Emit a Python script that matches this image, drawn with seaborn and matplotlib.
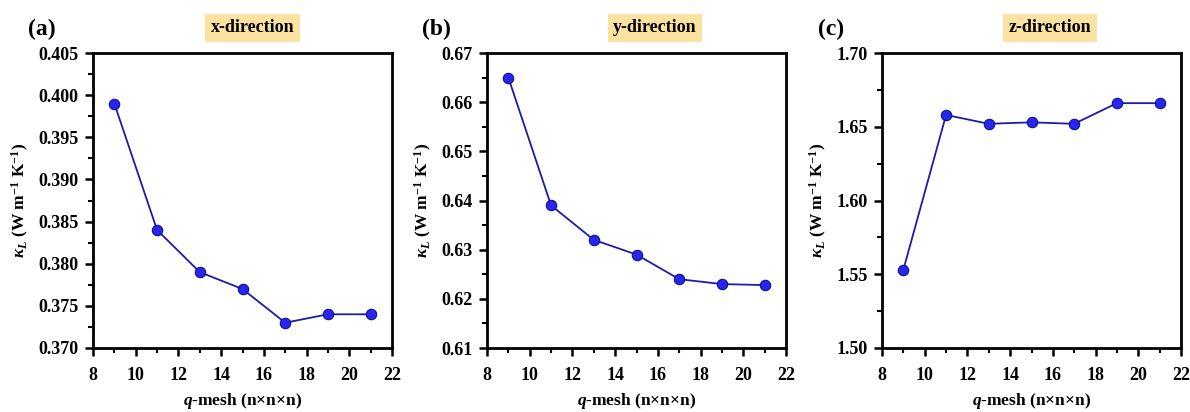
import matplotlib
matplotlib.use("Agg")
import matplotlib.pyplot as plt
import seaborn as sns
import numpy as np
import pandas as pd
from matplotlib.ticker import MultipleLocator

# ---- data ----
qmesh = [9, 11, 13, 15, 17, 19, 21]
kappa_x = [0.399, 0.384, 0.379, 0.377, 0.373, 0.374, 0.374]
kappa_y = [0.665, 0.639, 0.632, 0.629, 0.624, 0.623, 0.6228]
kappa_z = [1.553, 1.658, 1.652, 1.653, 1.652, 1.666, 1.666]
panel_labels = ["(a)", "(b)", "(c)"]
titles = ["x-direction", "y-direction", "z-direction"]
ylims = [(0.370, 0.405), (0.61, 0.67), (1.50, 1.70)]
ysteps = [0.005, 0.01, 0.05]
yfmts = ["{:.3f}", "{:.2f}", "{:.2f}"]

sns.set_theme(style="ticks")
plt.rcParams["font.family"] = ["Liberation Serif", "DejaVu Serif"]
plt.rcParams["font.weight"] = "bold"
plt.rcParams["text.color"] = "black"
plt.rcParams["axes.labelcolor"] = "black"
plt.rcParams["mathtext.fontset"] = "custom"
plt.rcParams["mathtext.rm"] = "Liberation Serif:bold"
plt.rcParams["mathtext.it"] = "Liberation Serif:italic:bold"
plt.rcParams["mathtext.bf"] = "Liberation Serif:bold"

fig = plt.figure(figsize=(11.9, 4.12), dpi=100)
lefts = [93 / 1190, 487 / 1190, 882 / 1190]
width = 299 / 1190
bottom = (412 - 348) / 412
height = (348 - 53) / 412
title_x = [0.533, 0.562, 0.562]

series = [kappa_x, kappa_y, kappa_z]
for i in range(3):
    ax = fig.add_axes([lefts[i], bottom, width, height])
    df = pd.DataFrame({"q": qmesh, "k": series[i]})
    sns.lineplot(data=df, x="q", y="k", ax=ax, color="#1c1ca8", linewidth=1.3,
                 marker="o", markersize=7.5, markerfacecolor="#2626ee",
                 markeredgecolor="#10108a", markeredgewidth=0.8)
    ax.set_xlim(8, 22)
    ax.set_ylim(*ylims[i])
    ax.xaxis.set_major_locator(MultipleLocator(2))
    ax.xaxis.set_minor_locator(MultipleLocator(1))
    yt = np.arange(ylims[i][0], ylims[i][1] + ysteps[i] / 2, ysteps[i])
    ax.set_yticks(yt)
    ax.set_yticklabels([yfmts[i].format(v) for v in yt])
    ax.yaxis.set_minor_locator(MultipleLocator(ysteps[i] / 2))
    for s in ax.spines.values():
        s.set_linewidth(2.0)
        s.set_color("black")
    ax.tick_params(which="major", direction="out", length=5.5, width=1.8,
                   labelsize=13, colors="black")
    ax.tick_params(axis="x", which="major", pad=8)
    ax.tick_params(axis="y", which="major", pad=5)
    ax.tick_params(which="minor", direction="out", length=3.5, width=1.5, colors="black")
    for lab in ax.get_xticklabels() + ax.get_yticklabels():
        lab.set_fontweight("bold")
    ax.set_xlabel(r"$\mathit{q}$-mesh (n×n×n)", fontsize=12.5, fontweight="bold", labelpad=5)
    ax.set_ylabel(r"$\kappa_{\mathit{L}}$ (W m$^{-1}$ K$^{-1}$)", fontsize=12.5, fontweight="bold", labelpad=5)
    ax.text(title_x[i], 1.085, titles[i], transform=ax.transAxes, ha="center", va="center",
            fontsize=13, fontweight="bold",
            bbox=dict(boxstyle="square,pad=0.3", facecolor="#fbe2a0", edgecolor="none"))
    ax.text(-0.17, 1.08, panel_labels[i], transform=ax.transAxes, ha="center", va="center",
            fontsize=17, fontweight="bold")

fig.savefig("out.png", dpi=100)
